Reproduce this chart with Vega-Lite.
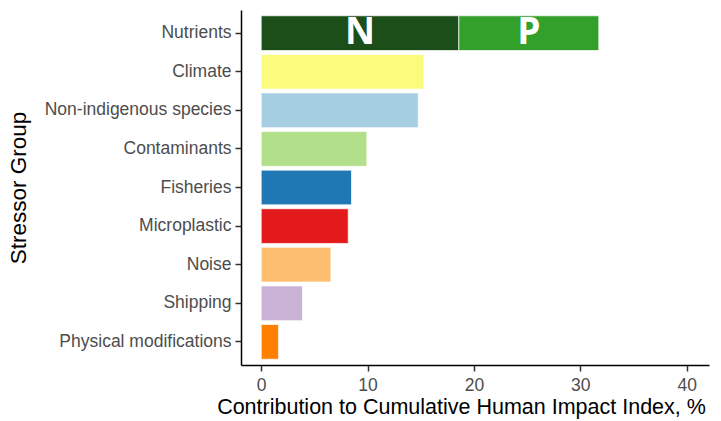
{
  "$schema": "https://vega.github.io/schema/vega-lite/v6.json",
  "width": 468,
  "height": 355,
  "autosize": {"type": "none"},
  "padding": {"left": 241, "top": 10, "right": 12, "bottom": 56},
  "background": "white",
  "config": {"view": {"stroke": null}, "font": "Liberation Sans"},
  "data": {
    "values": [
      {"stressor": "Nutrients", "part": "N", "label": "N", "value": 18.58},
      {"stressor": "Nutrients", "part": "P", "label": "P", "value": 13.16},
      {"stressor": "Climate", "part": "Climate", "label": null, "value": 15.29},
      {"stressor": "Non-indigenous species", "part": "Non-indigenous species", "label": null, "value": 14.76},
      {"stressor": "Contaminants", "part": "Contaminants", "label": null, "value": 9.93},
      {"stressor": "Fisheries", "part": "Fisheries", "label": null, "value": 8.49},
      {"stressor": "Microplastic", "part": "Microplastic", "label": null, "value": 8.18},
      {"stressor": "Noise", "part": "Noise", "label": null, "value": 6.55},
      {"stressor": "Shipping", "part": "Shipping", "label": null, "value": 3.88},
      {"stressor": "Physical modifications", "part": "Physical modifications", "label": null, "value": 1.63}
    ]
  },
  "transform": [
    {"stack": "value", "groupby": ["stressor"], "sort": [{"field": "part", "order": "ascending"}], "as": ["x0", "x1"]}
  ],
  "layer": [
    {
      "mark": {"type": "bar", "stroke": "white", "strokeWidth": 0.7},
      "encoding": {
        "y": {
          "field": "stressor",
          "type": "nominal",
          "sort": ["Nutrients", "Climate", "Non-indigenous species", "Contaminants", "Fisheries", "Microplastic", "Noise", "Shipping", "Physical modifications"],
          "scale": {"paddingInner": 0.1, "paddingOuter": 0.15},
          "axis": {
            "title": "Stressor Group",
            "titleFontSize": 22.5,
            "titleFontWeight": "normal",
            "titleColor": "black",
            "titleX": -223,
            "titleY": 177.5,
            "titleAngle": -90,
            "titleAlign": "center",
            "titleBaseline": "middle",
            "labelFontSize": 17.5,
            "labelLimit": 0,
            "labelColor": "#4d4d4d",
            "labelPadding": 4,
            "tickSize": 6,
            "tickColor": "#333333",
            "tickWidth": 1.5,
            "domainColor": "black",
            "domainWidth": 1.5,
            "grid": false
          }
        },
        "x": {
          "field": "x0",
          "type": "quantitative",
          "scale": {"domain": [-1.9, 42.1], "nice": false, "zero": false},
          "axis": {
            "title": "Contribution to Cumulative Human Impact Index, %",
            "titleFontSize": 21.5,
            "titleFontWeight": "normal",
            "titleColor": "black",
            "titleX": 220,
            "titleY": 48,
            "titleAlign": "center",
            "titleBaseline": "alphabetic",
            "values": [0, 10, 20, 30, 40],
            "labelFontSize": 17.5,
            "labelColor": "#4d4d4d",
            "labelPadding": 5,
            "tickSize": 6,
            "tickColor": "#333333",
            "tickWidth": 1.5,
            "domainColor": "black",
            "domainWidth": 1.5,
            "grid": false
          }
        },
        "x2": {"field": "x1"},
        "color": {
          "field": "part",
          "type": "nominal",
          "scale": {
            "domain": ["N", "P", "Climate", "Non-indigenous species", "Contaminants", "Fisheries", "Microplastic", "Noise", "Shipping", "Physical modifications"],
            "range": ["#1b4e18", "#33a02c", "#fbfb7e", "#a6cee3", "#b2df8a", "#1f78b4", "#e31a1c", "#fdbf6f", "#cab2d6", "#ff7f00"]
          },
          "legend": null
        }
      }
    },
    {
      "transform": [
        {"filter": "datum.label != null"},
        {"calculate": "(datum.x0 + datum.x1) / 2", "as": "xm"}
      ],
      "mark": {"type": "text", "color": "white", "font": "Open Sans", "fontWeight": "bold", "fontSize": 37, "baseline": "middle", "align": "center"},
      "encoding": {
        "y": {
          "field": "stressor",
          "type": "nominal",
          "sort": ["Nutrients", "Climate", "Non-indigenous species", "Contaminants", "Fisheries", "Microplastic", "Noise", "Shipping", "Physical modifications"]
        },
        "x": {"field": "xm", "type": "quantitative"},
        "text": {"field": "label"}
      }
    }
  ]
}
